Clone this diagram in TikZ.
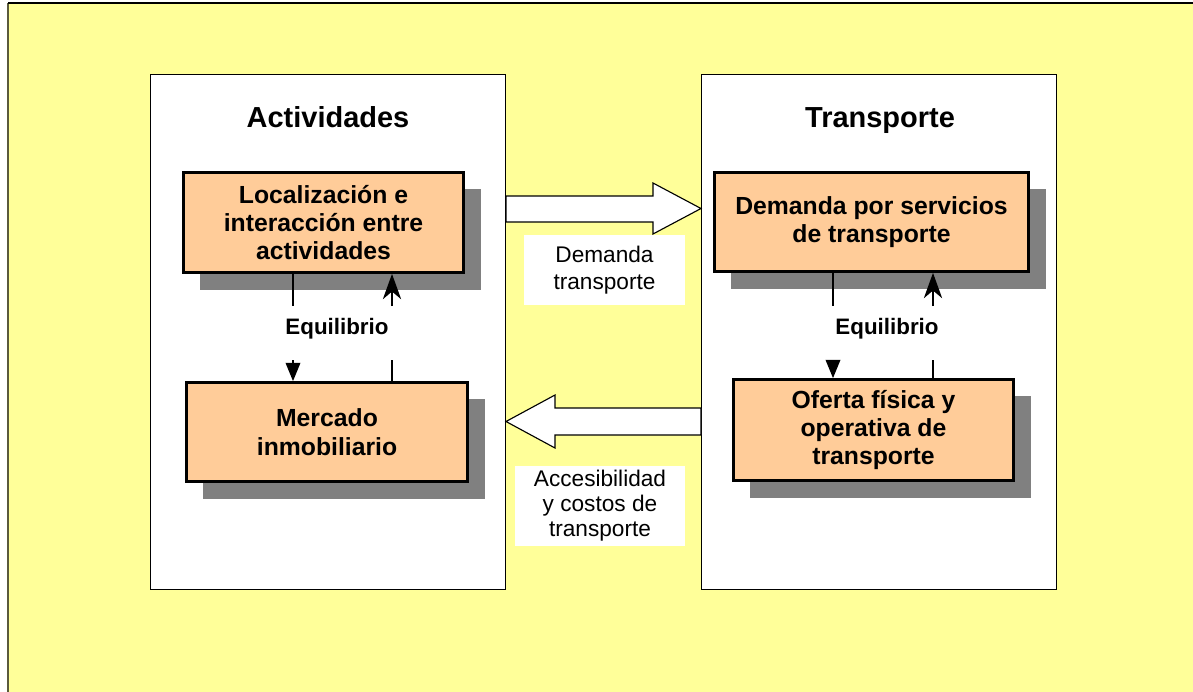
\documentclass[tikz,border=0pt]{standalone}
\usepackage{fontspec}
\setmainfont{Liberation Sans}
\usepackage{tikz}
\usetikzlibrary{arrows.meta,shadows,calc}
\definecolor{fondo}{HTML}{FFFF99}
\definecolor{naranja}{HTML}{FFCC99}
\definecolor{sombra}{HTML}{808080}
\definecolor{borde}{HTML}{5A5A3C}
\tikzset{
  panel/.style={draw, line width=1pt, fill=white, minimum width=8.875cm, minimum height=12.875cm, inner sep=0pt},
  titulo/.style={anchor=base, font=\bfseries\fontsize{20.6}{24}\selectfont},
  caja/.style={draw, line width=2pt, fill=naranja, align=center, inner sep=0pt,
    font=\bfseries\fontsize{17.6}{20.2}\selectfont,
    general shadow={fill=sombra, shadow xshift=0.425cm, shadow yshift=-0.425cm}},
  etiqueta/.style={fill=white, align=center, inner sep=0pt, font=\fontsize{16.1}{19.2}\selectfont},
  equil/.style={font=\bfseries\fontsize{15.9}{19}\selectfont},
  linea/.style={line width=0.8pt},
  bajada/.style={linea, -{Triangle[width=10.5pt,length=13pt]}},
  subida/.style={linea, -{Stealth[width=13pt,length=18pt,inset=5.5pt]}},
  bloque/.style={draw, line width=0.8pt, fill=white, line join=miter}
}
\begin{document}
\begin{tikzpicture}[x=0.025cm, y=-0.025cm]
\useasboundingbox (0,0) rectangle (1193,692);
\fill[fondo] (8,3) rectangle (1193,692);
\draw[borde, line width=1.2pt] (8,692) -- (8,3);
\draw[black, line width=1.2pt] (8,3) -- (1193,3);

% paneles
\node[panel] (pAct) at (328,332) {};
\node[panel] (pTra) at (879,332) {};
\node[titulo] (tAct) at (328,127) {Actividades};
\node[titulo] (tTra) at (880,127) {Transporte};

% cajas
\node[caja, minimum width=7cm, minimum height=2.5cm] (loc) at (323.5,222.5)
  {Localización e\\interacción entre\\actividades};
\node[caja, minimum width=7.025cm, minimum height=2.475cm] (mer) at (327,432)
  {Mercado\\inmobiliario};
\node[caja, minimum width=7.85cm, minimum height=2.475cm] (dem) at (871.5,222)
  {Demanda por servicios\\de transporte};
\node[caja, minimum width=7cm, minimum height=2.525cm] (ofe) at (873.5,430)
  {Oferta física y\\operativa de\\transporte};

% equilibrio
\node[equil] (eqAct) at (337,329) {Equilibrio};
\node[equil] (eqTra) at (887,329) {Equilibrio};

\draw[linea] (loc.south -| 293,0) -- (293,306);
\draw[bajada] (293,360) -- (mer.north -| 293,0);
\draw[linea] (mer.north -| 392,0) -- (392,360);
\draw[subida] (392,306) -- (loc.south -| 392,0);

\draw[linea] (dem.south -| 833,0) -- (833,306);
\draw[bajada] (833,360) -- (ofe.north -| 833,0);
\draw[linea] (ofe.north -| 933,0) -- (933,360);
\draw[subida] (933,306) -- (dem.south -| 933,0);

% flechas de bloque
\draw[bloque] (506,196) -- (653,196) -- (653,183) -- (701,208.5) -- (653,234) -- (653,222) -- (506,222) -- cycle;
\draw[bloque] (701,408) -- (555,408) -- (555,395) -- (506,421.5) -- (555,448) -- (555,435) -- (701,435) -- cycle;

\node[etiqueta, minimum width=4.025cm, minimum height=1.75cm] (lDem) at (604.5,270)
  {Demanda\\transporte};
\node[etiqueta, minimum width=4.25cm, minimum height=1.975cm, font=\fontsize{16.1}{17.8}\selectfont] (lAcc) at (600,506)
  {Accesibilidad\\y costos de\\transporte};
\end{tikzpicture}
\end{document}
